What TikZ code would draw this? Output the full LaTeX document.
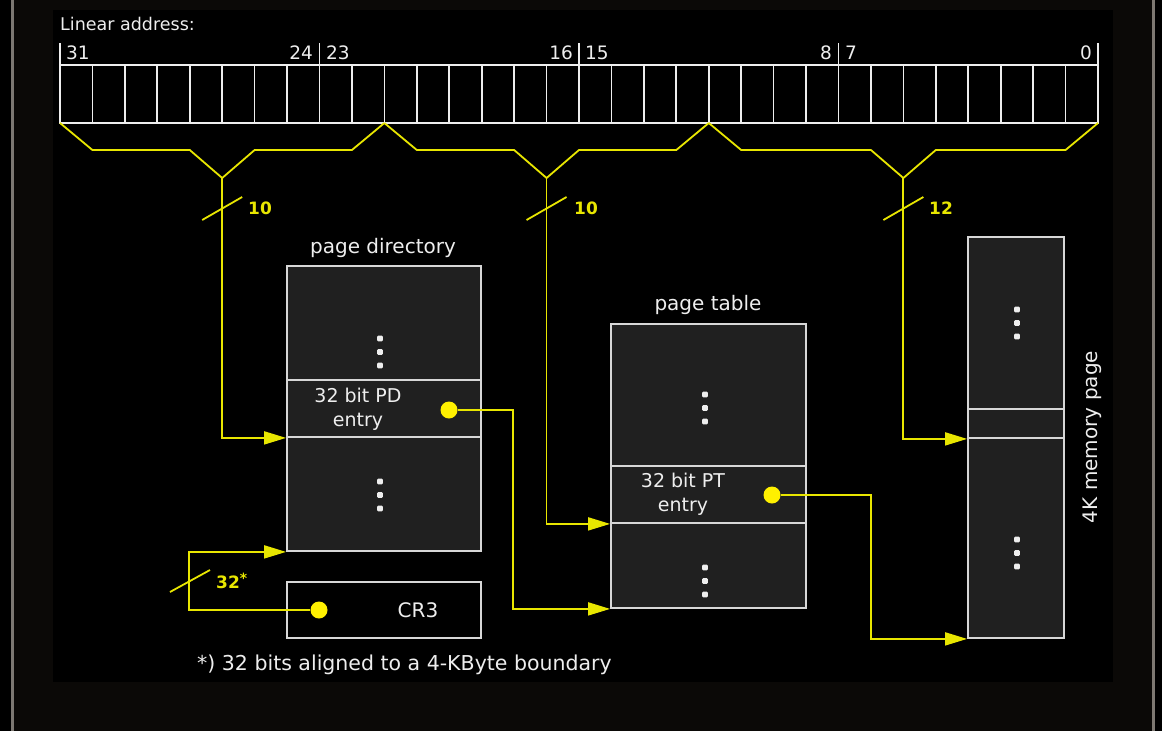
\documentclass[tikz,border=0pt]{standalone}
\usepackage{fontspec}
\setmainfont{DejaVu Sans}
\usetikzlibrary{arrows.meta,calc}
\definecolor{band}{RGB}{11,9,7}
\definecolor{rulegray}{RGB}{125,120,114}
\definecolor{boxfill}{RGB}{32,32,32}
\definecolor{boxline}{RGB}{215,215,215}
\definecolor{wirecol}{RGB}{232,230,0}
\definecolor{dotcol}{RGB}{255,240,0}
\definecolor{txt}{RGB}{238,238,238}
\newcommand\dotcolumn[2]{%
  \foreach \dy in {-13.5,0,13.5}
    \fill[txt, rounded corners=1pt] ({#1-2.8},{#2+\dy-2.8}) rectangle ++(5.6,5.6);}
\begin{document}
\begin{tikzpicture}[x=1pt,y=-1pt,
  memtable/.style={draw=boxline, line width=1.8pt, fill=boxfill, inner sep=0pt},
  entryrow/.style={draw=boxline, line width=1.8pt, fill=boxfill, inner sep=0pt},
  bitline/.style={draw=txt, line width=1.7pt},
  wire/.style={draw=wirecol, line width=1.8pt, line join=miter},
  wirearrow/.style={wire, -{Triangle[length=22pt,width=13pt]}},
  ydot/.style={circle, fill=dotcol, draw=none, inner sep=0pt, minimum size=17pt},
  lbl/.style={text=txt, inner sep=0pt, font=\fontsize{20}{23}\selectfont},
  bitnum/.style={text=txt, inner sep=0pt, font=\fontsize{18.5}{20}\selectfont},
  ylbl/.style={text=wirecol, inner sep=0pt, font=\bfseries\fontsize{17}{18}\selectfont},
]
\useasboundingbox (0,0) rectangle (1162,731);
% background
\fill[black] (0,0) rectangle (1162,731);
\fill[band] (14,0) rectangle (1152,731);
\draw[rulegray, line width=3pt] (12.5,0) -- (12.5,731);
\draw[rulegray, line width=3pt] (1153.5,0) -- (1153.5,731);
\fill[black] (53,10) rectangle (1113,682);

% linear address register
\node[lbl, anchor=west, font=\fontsize{17.5}{20}\selectfont] (la) at (60,24) {Linear address:};
\node[draw=txt, line width=1.7pt, inner sep=0pt, minimum width=1038pt, minimum height=58pt] (reg) at (579,94) {};
\foreach \i in {1,...,31}
  \draw[bitline] ({60+\i*32.4375},65) -- ({60+\i*32.4375},123);
\foreach \k in {0,8,16,24,32}
  \draw[bitline] ({60+\k*32.4375},43) -- ({60+\k*32.4375},65);
\node[bitnum, anchor=west] (b31) at (66,53) {31};
\node[bitnum, anchor=east] (b24) at (313,53) {24};
\node[bitnum, anchor=west] (b23) at (326,53) {23};
\node[bitnum, anchor=east] (b16) at (573,53) {16};
\node[bitnum, anchor=west] (b15) at (585,53) {15};
\node[bitnum, anchor=east] (b8) at (832,53) {8};
\node[bitnum, anchor=west] (b7) at (845,53) {7};
\node[bitnum, anchor=east] (b0) at (1092,53) {0};

% braces
\coordinate (v1) at (222.19,178);
\coordinate (v2) at (546.56,178);
\coordinate (v3) at (903.38,178);
\draw[wire] (60,123) -- (92.44,150) -- (189.75,150) -- (v1) -- (254.63,150) -- (351.94,150) -- (384.38,123);
\draw[wire] (384.38,123) -- (416.81,150) -- (514.13,150) -- (v2) -- (579,150) -- (676.31,150) -- (708.75,123);
\draw[wire] (708.75,123) -- (741.19,150) -- (870.94,150) -- (v3) -- (935.81,150) -- (1065.56,150) -- (1098,123);

% page directory
\node[lbl] (pdlbl) at (383,248) {page directory};
\node[memtable, minimum width=194pt, minimum height=285pt] (pd) at (384,408.5) {};
\node[entryrow, minimum width=194pt, minimum height=57pt] (pde) at (384,408.5) {};
\node[lbl, align=center, font=\fontsize{19}{24}\selectfont] (pdetxt) at (358,409) {32 bit PD\\entry};
\dotcolumn{380}{352}
\dotcolumn{380}{495}

% CR3
\node[draw=boxline, line width=1.8pt, fill=black, inner sep=0pt, minimum width=194pt, minimum height=56pt] (cr3) at (384,610) {};
\node[lbl] (cr3txt) at (418,610) {CR3};

% page table
\node[lbl] (ptlbl) at (708,305) {page table};
\node[memtable, minimum width=195pt, minimum height=284pt] (pt) at (708.5,466) {};
\node[entryrow, minimum width=195pt, minimum height=57pt] (pte) at (708.5,494.5) {};
\node[lbl, align=center, font=\fontsize{19}{24}\selectfont] (ptetxt) at (683,494.5) {32 bit PT\\entry};
\dotcolumn{705}{408}
\dotcolumn{705}{581}

% memory page
\node[memtable, minimum width=96pt, minimum height=401pt] (mem) at (1016,437.5) {};
\node[entryrow, minimum width=96pt, minimum height=29pt] (me) at (1016,423.5) {};
\dotcolumn{1017}{323}
\dotcolumn{1017}{553}
\node[lbl, rotate=90] (memlbl) at (1092,437) {4K memory page};

% bend coordinates
\coordinate (b1) at (513,0);
\coordinate (b2) at (871,0);
\coordinate (b3) at (189,0);

% dots
\node[ydot] (pddot) at (449,410) {};
\node[ydot] (ptdot) at (772,495) {};
\node[ydot] (crdot) at (319,610) {};

% connectors
\draw[wirearrow] (v1) |- (pde.south west);
\draw[wirearrow] (v2) |- (pte.south west);
\draw[wirearrow] (v3) |- (me.south west);
\draw[wirearrow] (pddot) -- (pddot -| b1) |- (pt.south west);
\draw[wirearrow] (ptdot) -- (ptdot -| b2) |- (mem.south west);
\draw[wirearrow] (crdot) -- (crdot -| b3) |- (pd.south west);

% width marks
\draw[wire] ($(v1)+(-20,42)$) -- ($(v1)+(20,19)$);
\node[ylbl] (w1) at (260,208) {10};
\draw[wire] ($(v2)+(-20,42)$) -- ($(v2)+(20,19)$);
\node[ylbl] (w2) at (586,208) {10};
\draw[wire] ($(v3)+(-20,42)$) -- ($(v3)+(20,19)$);
\node[ylbl] (w3) at (941,208) {12};
\draw[wire] (170,592) -- (210,570);
\node[ylbl, anchor=west] (w4) at (216,581) {32\raisebox{5pt}{\fontsize{14}{14}\selectfont*}};

% footnote
\node[lbl, anchor=west, font=\fontsize{20.5}{23}\selectfont] (fn) at (197,665) {*) 32 bits aligned to a 4-KByte boundary};
\end{tikzpicture}
\end{document}
